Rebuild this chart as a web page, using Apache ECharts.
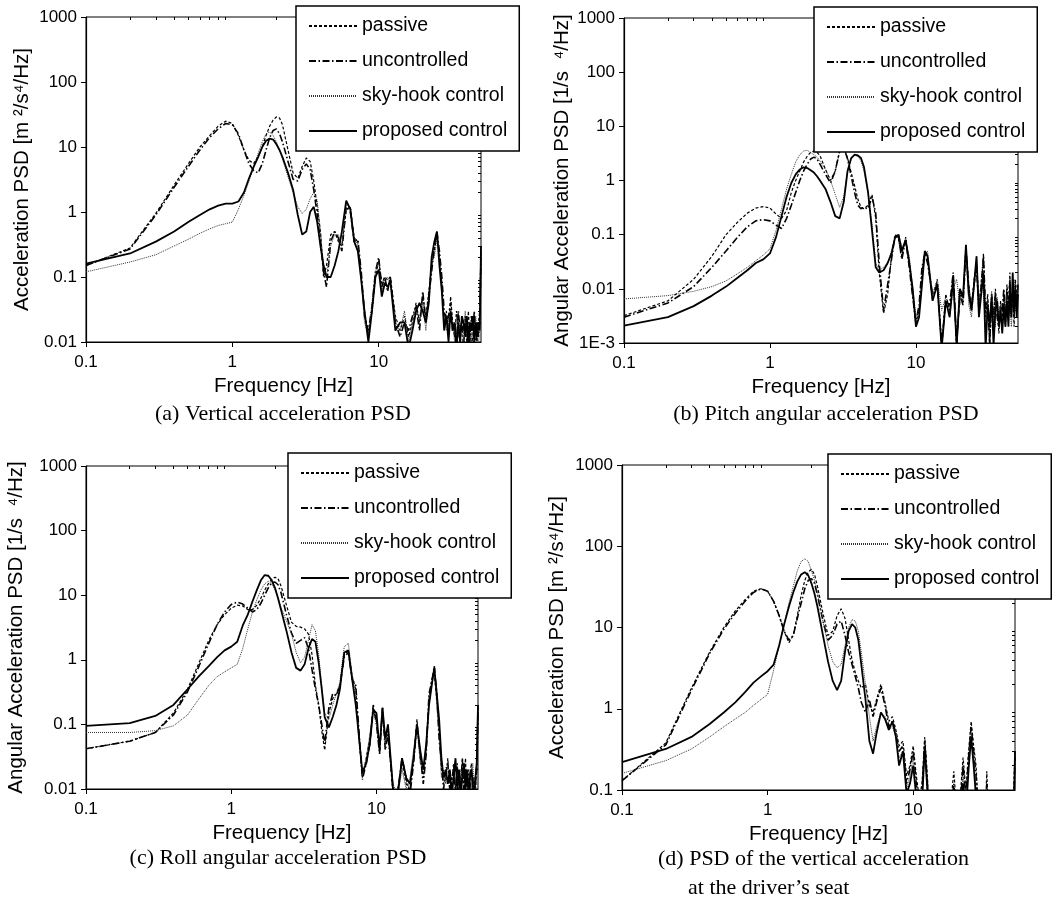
<!DOCTYPE html>
<html>
<head>
<meta charset="utf-8">
<title>Acceleration PSD comparison</title>
<script src="https://cdn.jsdelivr.net/npm/echarts@6/dist/echarts.min.js"></script>
<style>
  html, body { margin: 0; padding: 0; background: #fff; }
  #chart { width: 1062px; height: 914px; }
</style>
</head>
<body>
<div id="chart"></div>
<script>
// frequency grid [Hz], shared by every curve
var freq = [
  0.1, 0.2, 0.3, 0.4, 0.5, 0.6, 0.7, 0.8, 0.9, 1.0,
  1.1, 1.2, 1.3, 1.4, 1.5, 1.6, 1.7, 1.8, 1.9, 2.0,
  2.1, 2.2, 2.4, 2.6, 2.8, 3.0, 3.2, 3.4, 3.6, 3.8,
  4.0, 4.2, 4.4, 4.7, 5.0, 5.3, 5.6, 6.0, 6.4, 6.8,
  7.2, 7.6, 8.0, 8.5, 9.0, 9.5, 10, 10.5, 11, 11.5,
  12, 13, 14, 15, 16, 17, 18, 19, 20, 21,
  22, 23, 24, 25, 26, 27, 28, 29, 30, 31,
  32, 33, 34, 35, 36, 37, 38, 39, 40, 41,
  42, 43, 44, 45, 46, 47, 48, 49, 50
];

var seriesNames = ["passive", "uncontrolled", "sky-hook control", "proposed control"];

// (a) vertical acceleration PSD
var passiveA = [
  0.15, 0.28, 0.95, 2.6, 5.5, 10, 15, 21, 25, 23,
  15, 9, 6.2, 5.6, 7, 10, 15, 21, 26, 29,
  28, 22, 9, 4, 3.3, 5, 6.8, 6, 3, 1.2,
  0.5, 0.1, 0.15, 0.45, 0.5, 0.35, 0.3, 1.1, 1.2, 0.4,
  0.35, 0.1, 0.03, 0.012, 0.03, 0.1, 0.18, 0.08, 0.1, 0.09,
  0.1, 0.025, 0.015, 0.025, 0.012, 0.02, 0.04, 0.02, 0.05, 0.025,
  0.06, 0.15, 0.25, 0.45, 0.2, 0.08, 0.02, 0.03, 0.015, 0.05,
  0.02, 0.012, 0.03, 0.018, 0.008, 0.025, 0.015, 0.02, 0.01, 0.03,
  0.012, 0.02, 0.008, 0.025, 0.015, 0.01, 0.02, 0.03, 0.25
];
var uncontA = [
  0.15, 0.27, 0.9, 2.4, 5, 9, 14, 19, 23, 22,
  16, 9, 5.5, 4.3, 4, 5.5, 9, 14, 18, 19,
  16, 12, 6, 3.2, 3, 4.5, 5.5, 4.5, 2.2, 0.9,
  0.35, 0.12, 0.07, 0.35, 0.5, 0.4, 0.25, 1.2, 1.0, 0.35,
  0.38, 0.12, 0.025, 0.015, 0.035, 0.12, 0.2, 0.07, 0.1, 0.06,
  0.1, 0.02, 0.012, 0.02, 0.015, 0.025, 0.035, 0.015, 0.06, 0.02,
  0.05, 0.12, 0.3, 0.5, 0.25, 0.1, 0.03, 0.02, 0.025, 0.04,
  0.015, 0.02, 0.01, 0.03, 0.015, 0.02, 0.008, 0.025, 0.015, 0.02,
  0.01, 0.025, 0.015, 0.03, 0.008, 0.02, 0.012, 0.02, 0.2
];
var skyA = [
  0.12, 0.17, 0.22, 0.3, 0.38, 0.47, 0.55, 0.62, 0.66, 0.7,
  1.1, 1.8, 3, 5, 8, 12, 16, 17, 15, 12,
  9, 6.5, 3.5, 2, 1.2, 0.95, 1.1, 1.6, 2.0, 1.5,
  0.5, 0.15, 0.1, 0.3, 0.45, 0.45, 0.3, 1.3, 1.2, 0.4,
  0.3, 0.08, 0.02, 0.012, 0.04, 0.12, 0.17, 0.06, 0.09, 0.1,
  0.08, 0.02, 0.015, 0.03, 0.01, 0.02, 0.03, 0.025, 0.04, 0.015,
  0.05, 0.18, 0.2, 0.4, 0.22, 0.06, 0.025, 0.015, 0.02, 0.03,
  0.02, 0.01, 0.025, 0.012, 0.02, 0.015, 0.01, 0.03, 0.012, 0.02,
  0.015, 0.01, 0.02, 0.012, 0.025, 0.015, 0.008, 0.02, 0.2
];
var propA = [
  0.16, 0.23, 0.35, 0.5, 0.7, 0.9, 1.1, 1.25, 1.35, 1.35,
  1.45, 2.0, 3.3, 5, 7, 10, 12.5, 13.5, 13, 11,
  9, 7, 4, 2.2, 0.9, 0.45, 0.5, 1.0, 1.2, 0.7,
  0.3, 0.15, 0.1, 0.1, 0.15, 0.25, 0.5, 1.5, 1.1, 0.35,
  0.25, 0.09, 0.03, 0.01, 0.03, 0.1, 0.13, 0.05, 0.08, 0.07,
  0.09, 0.015, 0.02, 0.02, 0.008, 0.015, 0.03, 0.04, 0.03, 0.02,
  0.04, 0.2, 0.35, 0.5, 0.15, 0.06, 0.015, 0.025, 0.01, 0.03,
  0.015, 0.02, 0.008, 0.02, 0.01, 0.025, 0.02, 0.012, 0.025, 0.008,
  0.02, 0.015, 0.025, 0.01, 0.02, 0.012, 0.02, 0.015, 0.3
];

// (b) pitch angular acceleration PSD
var passiveB = [
  0.0032, 0.006, 0.015, 0.04, 0.1, 0.17, 0.25, 0.31, 0.33, 0.31,
  0.24, 0.2, 0.28, 0.6, 1.0, 1.5, 2.2, 2.8, 3.3, 3.5,
  3.3, 2.9, 1.6, 1.0, 1.5, 3.5, 4.0, 2.6, 1.4, 0.8,
  0.45, 0.32, 0.3, 0.35, 0.55, 0.2, 0.02, 0.0035, 0.008, 0.04,
  0.1, 0.08, 0.04, 0.09, 0.03, 0.008, 0.002, 0.004, 0.02, 0.05,
  0.04, 0.006, 0.015, 0.0008, 0.008, 0.004, 0.018, 0.0008, 0.01, 0.006,
  0.06, 0.012, 0.004, 0.015, 0.03, 0.006, 0.01, 0.045, 0.003, 0.008,
  0.0008, 0.006, 0.002, 0.01, 0.004, 0.0015, 0.006, 0.003, 0.008, 0.002,
  0.012, 0.004, 0.02, 0.003, 0.01, 0.002, 0.015, 0.006, 0.01
];
var uncontB = [
  0.003, 0.0055, 0.011, 0.025, 0.05, 0.09, 0.14, 0.18, 0.19, 0.18,
  0.15, 0.13, 0.2, 0.35, 0.6, 1.0, 1.5, 2.0, 2.5, 2.7,
  2.5, 2.0, 1.3, 0.9, 1.5, 3.5, 4.1, 2.5, 1.2, 0.6,
  0.35, 0.3, 0.32, 0.3, 0.5, 0.25, 0.03, 0.004, 0.012, 0.035,
  0.1, 0.09, 0.035, 0.08, 0.025, 0.007, 0.0025, 0.005, 0.025, 0.045,
  0.03, 0.008, 0.012, 0.001, 0.006, 0.005, 0.02, 0.001, 0.008, 0.005,
  0.05, 0.01, 0.005, 0.012, 0.025, 0.004, 0.012, 0.04, 0.004, 0.006,
  0.001, 0.008, 0.003, 0.008, 0.003, 0.002, 0.005, 0.004, 0.01, 0.003,
  0.01, 0.003, 0.015, 0.004, 0.008, 0.003, 0.012, 0.005, 0.012
];
var skyB = [
  0.0065, 0.0075, 0.009, 0.011, 0.014, 0.019, 0.025, 0.033, 0.042, 0.055,
  0.12, 0.3, 0.7, 1.3, 2.2, 3.0, 3.5, 3.6, 3.3, 3.0,
  2.7, 2.3, 1.6, 1.0, 0.55, 0.32, 0.5, 1.5, 2.5, 2.9,
  2.8, 2.3, 1.5, 0.6, 0.15, 0.03, 0.022, 0.025, 0.03, 0.05,
  0.09, 0.1, 0.06, 0.07, 0.04, 0.01, 0.003, 0.004, 0.015, 0.04,
  0.05, 0.008, 0.015, 0.004, 0.007, 0.003, 0.01, 0.015, 0.005, 0.008,
  0.06, 0.005, 0.003, 0.01, 0.04, 0.005, 0.015, 0.008, 0.002, 0.006,
  0.003, 0.009, 0.004, 0.002, 0.007, 0.003, 0.005, 0.002, 0.004, 0.003,
  0.008, 0.003, 0.006, 0.002, 0.005, 0.015, 0.004, 0.009, 0.01
];
var propB = [
  0.0021, 0.003, 0.0048, 0.0075, 0.011, 0.016, 0.022, 0.03, 0.035, 0.045,
  0.09, 0.22, 0.5, 0.9, 1.3, 1.6, 1.75, 1.7, 1.55, 1.4,
  1.2, 1.0, 0.7, 0.4, 0.22, 0.2, 0.4, 1.5, 2.6, 3.0,
  2.9, 2.6, 1.8, 0.6, 0.12, 0.025, 0.02, 0.022, 0.03, 0.045,
  0.09, 0.1, 0.05, 0.08, 0.03, 0.01, 0.002, 0.003, 0.012, 0.05,
  0.04, 0.006, 0.012, 0.0008, 0.006, 0.003, 0.015, 0.0009, 0.01, 0.007,
  0.065, 0.008, 0.004, 0.012, 0.04, 0.003, 0.008, 0.02, 0.0008, 0.005,
  0.002, 0.007, 0.0009, 0.004, 0.006, 0.002, 0.004, 0.0015, 0.005, 0.002,
  0.006, 0.002, 0.01, 0.003, 0.02, 0.004, 0.01, 0.003, 0.008
];

// (c) roll angular acceleration PSD
var passiveC = [
  0.042, 0.055, 0.075, 0.15, 0.35, 0.9, 2.0, 3.5, 5, 6.3,
  7, 6.8, 6, 6, 7, 9, 12, 15, 17.5, 19,
  18, 14, 7, 3.8, 3.3, 3.2, 3.0, 2.5, 1.2, 0.4,
  0.2, 0.08, 0.04, 0.15, 0.25, 0.3, 0.4, 1.2, 1.4, 0.55,
  0.35, 0.06, 0.015, 0.03, 0.06, 0.18, 0.12, 0.04, 0.15, 0.05,
  0.08, 0.008, 0.01, 0.025, 0.012, 0.01, 0.03, 0.12, 0.03, 0.015,
  0.04, 0.25, 0.5, 0.6, 0.25, 0.08, 0.02, 0.012, 0.015, 0.03,
  0.008, 0.015, 0.02, 0.01, 0.025, 0.008, 0.015, 0.02, 0.01, 0.03,
  0.008, 0.02, 0.015, 0.025, 0.01, 0.015, 0.008, 0.03, 0.2
];
var uncontC = [
  0.042, 0.055, 0.075, 0.14, 0.32, 0.8, 1.8, 3.5, 5.5, 7.2,
  7.8, 7.3, 6.3, 5.5, 6, 7.5, 10, 13, 15.5, 16,
  14.5, 11, 5, 2.6, 1.8, 2.0, 2.2, 1.5, 0.7, 0.35,
  0.2, 0.1, 0.05, 0.18, 0.3, 0.28, 0.4, 1.1, 1.3, 0.5,
  0.4, 0.07, 0.014, 0.025, 0.05, 0.2, 0.1, 0.035, 0.18, 0.04,
  0.07, 0.01, 0.009, 0.03, 0.015, 0.008, 0.025, 0.1, 0.035, 0.012,
  0.035, 0.3, 0.45, 0.8, 0.3, 0.06, 0.025, 0.01, 0.02, 0.025,
  0.01, 0.012, 0.025, 0.008, 0.02, 0.012, 0.01, 0.03, 0.008, 0.02,
  0.012, 0.015, 0.01, 0.02, 0.015, 0.01, 0.012, 0.02, 0.15
];
var skyC = [
  0.075, 0.075, 0.08, 0.095, 0.14, 0.25, 0.4, 0.55, 0.65, 0.75,
  0.85, 1.5, 3, 5.5, 8.5, 12, 15, 16.5, 15, 12,
  9, 6.5, 4, 2.5, 1.3, 0.9, 1.1, 2.0, 3.5, 2.8,
  1.2, 0.4, 0.15, 0.12, 0.2, 0.3, 0.45, 1.6, 1.8, 0.6,
  0.25, 0.05, 0.016, 0.03, 0.07, 0.17, 0.1, 0.05, 0.15, 0.05,
  0.09, 0.012, 0.008, 0.02, 0.01, 0.015, 0.04, 0.09, 0.025, 0.02,
  0.05, 0.2, 0.4, 0.7, 0.2, 0.07, 0.015, 0.02, 0.012, 0.025,
  0.015, 0.01, 0.02, 0.012, 0.015, 0.01, 0.02, 0.015, 0.025, 0.01,
  0.015, 0.012, 0.02, 0.01, 0.025, 0.012, 0.01, 0.015, 0.15
];
var propC = [
  0.095, 0.105, 0.135, 0.2, 0.35, 0.56, 0.8, 1.1, 1.4, 1.6,
  1.9, 3.4, 5, 8, 12, 17, 20.5, 20, 17, 13,
  9, 6, 2.8, 1.3, 0.75, 0.68, 0.85, 1.5, 2.1, 1.9,
  0.9, 0.35, 0.13, 0.09, 0.13, 0.2, 0.35, 1.3, 1.4, 0.5,
  0.2, 0.06, 0.018, 0.025, 0.05, 0.17, 0.15, 0.04, 0.18, 0.06,
  0.1, 0.01, 0.008, 0.03, 0.015, 0.012, 0.03, 0.1, 0.04, 0.02,
  0.05, 0.2, 0.4, 0.75, 0.3, 0.12, 0.03, 0.015, 0.02, 0.012,
  0.02, 0.008, 0.015, 0.03, 0.01, 0.02, 0.008, 0.015, 0.025, 0.01,
  0.02, 0.008, 0.015, 0.02, 0.012, 0.008, 0.015, 0.025, 0.2
];

// (d) vertical acceleration at the driver's seat
var passiveD = [
  0.13, 0.38, 1.8, 5, 10, 16, 22, 28, 30, 28,
  21, 14, 9, 6.5, 8, 14, 25, 38, 48, 52,
  45, 32, 15, 8, 9, 14, 17, 13, 7, 4,
  2.8, 2.2, 1.8, 2, 1.1, 0.9, 1.3, 2.0, 1.2, 0.7,
  0.8, 0.55, 0.35, 0.4, 0.15, 0.2, 0.35, 0.15, 0.08, 0.12,
  0.45, 0.05, 0.06, 0.04, 0.05, 0.03, 0.06, 0.17, 0.05, 0.08,
  0.25, 0.1, 0.3, 0.7, 0.35, 0.2, 0.06, 0.05, 0.04, 0.03,
  0.17, 0.04, 0.03, 0.05, 0.03, 0.04, 0.02, 0.05, 0.03, 0.04,
  0.03, 0.05, 0.02, 0.04, 0.03, 0.05, 0.04, 0.1, 0.3
];
var uncontD = [
  0.13, 0.36, 1.7, 4.8, 9.5, 15, 21, 27, 30, 28,
  21, 14, 9, 7, 8, 13, 20, 30, 38, 40,
  35, 25, 12, 7, 8, 11, 12, 8, 5, 3.5,
  2.5, 1.8, 1.2, 0.9, 1.3, 0.8, 1.2, 1.8, 1.1, 0.6,
  0.7, 0.5, 0.3, 0.35, 0.12, 0.18, 0.3, 0.12, 0.07, 0.1,
  0.4, 0.04, 0.05, 0.03, 0.04, 0.02, 0.05, 0.12, 0.04, 0.06,
  0.2, 0.08, 0.25, 0.6, 0.3, 0.15, 0.05, 0.04, 0.03, 0.02,
  0.12, 0.03, 0.02, 0.04, 0.02, 0.03, 0.015, 0.04, 0.02, 0.03,
  0.02, 0.04, 0.015, 0.03, 0.02, 0.04, 0.03, 0.06, 0.25
];
var skyD = [
  0.16, 0.23, 0.32, 0.45, 0.6, 0.75, 0.9, 1.1, 1.3, 1.5,
  3, 6, 11, 20, 32, 50, 65, 70, 65, 50,
  38, 27, 12, 6, 3.8, 3.2, 3.5, 6, 10, 12.5,
  12, 9, 5, 2, 0.8, 0.4, 0.6, 0.9, 0.8, 0.55,
  0.6, 0.45, 0.25, 0.3, 0.1, 0.15, 0.25, 0.1, 0.06, 0.08,
  0.3, 0.03, 0.04, 0.02, 0.03, 0.02, 0.04, 0.1, 0.03, 0.05,
  0.15, 0.06, 0.2, 0.5, 0.25, 0.1, 0.04, 0.03, 0.02, 0.02,
  0.1, 0.02, 0.015, 0.03, 0.015, 0.02, 0.01, 0.03, 0.015, 0.02,
  0.015, 0.03, 0.01, 0.02, 0.015, 0.03, 0.02, 0.05, 0.2
];
var propD = [
  0.22, 0.32, 0.45, 0.65, 0.9, 1.2, 1.6, 2.1, 2.5, 2.9,
  3.5, 6, 11, 18, 27, 37, 45, 48, 44, 35,
  26, 18, 8, 3.8, 2.2, 1.7, 2.2, 5, 9, 11,
  10, 7, 3.5, 1.3, 0.4, 0.28, 0.5, 0.9, 0.75, 0.55,
  0.7, 0.45, 0.2, 0.3, 0.09, 0.12, 0.2, 0.08, 0.05, 0.07,
  0.35, 0.03, 0.04, 0.02, 0.03, 0.015, 0.03, 0.08, 0.02, 0.04,
  0.12, 0.05, 0.18, 0.45, 0.2, 0.08, 0.03, 0.02, 0.015, 0.02,
  0.08, 0.015, 0.01, 0.02, 0.01, 0.015, 0.008, 0.02, 0.01, 0.015,
  0.01, 0.02, 0.008, 0.015, 0.01, 0.02, 0.015, 0.04, 0.3
];

var SANS = '"Liberation Sans", Arial, Helvetica, sans-serif';
var SERIF = '"Liberation Serif", "Times New Roman", Times, serif';

// layout of the four panels (plot box in px, y range, axis title, legend corner)
var panels = [
  { box: [86, 17, 395, 325], yMin: 0.01, yMax: 1000, yGap: 53, legend: [296, 6],
    yName: "Acceleration PSD [m \u00b2/s\u2074/Hz]", curves: [passiveA, uncontA, skyA, propA] },
  { box: [624, 18, 394, 325], yMin: 0.001, yMax: 1000, yGap: 51, legend: [814, 7],
    yName: "Angular Acceleration PSD [1/s  \u2074/Hz]", curves: [passiveB, uncontB, skyB, propB] },
  { box: [86, 466, 392, 323], yMin: 0.01, yMax: 1000, yGap: 59, legend: [288, 453],
    yName: "Angular Acceleration PSD [1/s  \u2074/Hz]", curves: [passiveC, uncontC, skyC, propC] },
  { box: [622, 465, 393, 325], yMin: 0.1, yMax: 1000, yGap: 54, legend: [828, 454],
    yName: "Acceleration PSD [m \u00b2/s\u2074/Hz]", curves: [passiveD, uncontD, skyD, propD] }
];

var lineStyles = [
  { type: [3, 2], width: 1.2, color: "#000" },
  { type: [7, 2.5, 1.5, 2.5], width: 1.6, color: "#000" },
  { type: [1, 1], width: 1, color: "#333" },
  { type: "solid", width: 1.8, color: "#000" }
];

// minor tick positions 2..9 of each decade
function minorTicks(lo, hi) {
  var out = [];
  for (var d = lo; d < hi; d *= 10) {
    for (var m = 2; m <= 9; m++) {
      var v = +(m * d).toPrecision(6);
      if (v < hi) out.push(v);
    }
  }
  return out;
}

function tickText(v) {
  if (v < 0.002) return "1E-3";
  return String(+v.toPrecision(6));
}

var axisFont = { fontFamily: SANS, fontSize: 17, color: "#000" };
var nameFont = { fontFamily: SANS, fontSize: 20.5, color: "#000" };

var option = {
  animation: false,
  backgroundColor: "#fff",
  grid: [],
  xAxis: [],
  yAxis: [],
  legend: [],
  series: [],
  graphic: []
};

panels.forEach(function(p, i) {
  option.grid.push({
    left: p.box[0], top: p.box[1], width: p.box[2], height: p.box[3],
    show: true, borderColor: "#000", borderWidth: 1, containLabel: false
  });

  // main axes (labels, outer ticks) and a second pair for the inner minor ticks
  option.xAxis.push({
    type: "log", logBase: 10, gridIndex: i, min: 0.1, max: 50,
    name: "Frequency [Hz]", nameLocation: "middle", nameGap: 34, nameTextStyle: nameFont,
    axisLine: { show: true, onZero: false, lineStyle: { color: "#000", width: 1.2 } },
    axisTick: { show: true, inside: false, length: 5, lineStyle: { color: "#000" } },
    axisLabel: Object.assign({ margin: 12, showMaxLabel: false, formatter: tickText }, axisFont),
    splitLine: { show: false }
  });
  option.xAxis.push({
    type: "log", logBase: 10, gridIndex: i, min: 0.1, max: 50,
    axisLine: { show: false },
    axisTick: { show: true, inside: true, length: 3, customValues: minorTicks(0.1, 50), lineStyle: { color: "#000" } },
    axisLabel: { show: false },
    splitLine: { show: false }
  });
  option.yAxis.push({
    type: "log", logBase: 10, gridIndex: i, min: p.yMin, max: p.yMax,
    name: p.yName, nameLocation: "middle", nameGap: p.yGap, nameTextStyle: nameFont,
    axisLine: { show: true, onZero: false, lineStyle: { color: "#000", width: 1.2 } },
    axisTick: { show: true, inside: false, length: 5, lineStyle: { color: "#000" } },
    axisLabel: Object.assign({ margin: 9, formatter: tickText }, axisFont),
    splitLine: { show: false }
  });
  option.yAxis.push({
    type: "log", logBase: 10, gridIndex: i, min: p.yMin, max: p.yMax,
    axisLine: { show: false },
    axisTick: { show: true, inside: true, length: 3, customValues: minorTicks(p.yMin, p.yMax), lineStyle: { color: "#000" } },
    axisLabel: { show: false },
    splitLine: { show: false }
  });

  p.curves.forEach(function(values, k) {
    option.series.push({
      type: "line",
      name: seriesNames[k],
      xAxisIndex: 2 * i,
      yAxisIndex: 2 * i,
      data: freq.map(function(f, j) { return [f, values[j]]; }),
      symbol: "none",
      clip: true,
      z: k === 3 ? 4 : 3,
      itemStyle: { color: "#000" },
      lineStyle: lineStyles[k]
    });
  });

  option.legend.push({
    left: p.legend[0], top: p.legend[1],
    orient: "vertical",
    data: seriesNames,
    selectedMode: false,
    itemWidth: 48, itemHeight: 14, itemGap: 15,
    padding: [10, 12, 10, 12],
    borderColor: "#000", borderWidth: 1.5,
    backgroundColor: "#fff",
    // hide the marker dot, keep only the line sample
    itemStyle: { color: "rgba(0,0,0,0)", borderWidth: 0, opacity: 0 },
    textStyle: { fontFamily: SANS, fontSize: 19.5, color: "#000" },
    z: 10
  });
});

var captions = [
  { text: "(a) Vertical acceleration PSD", x: 283, y: 414, align: "center" },
  { text: "(b) Pitch angular acceleration PSD", x: 826, y: 414, align: "center" },
  { text: "(c) Roll angular acceleration PSD", x: 278, y: 858, align: "center" },
  { text: "(d) PSD of the vertical acceleration", x: 658, y: 859, align: "left" },
  { text: "at the driver\u2019s seat", x: 688, y: 888, align: "left" }
];
captions.forEach(function(c) {
  option.graphic.push({
    type: "text",
    x: c.x, y: c.y,
    style: {
      text: c.text,
      fontFamily: SERIF, fontSize: 22, fill: "#000",
      align: c.align, verticalAlign: "middle"
    }
  });
});

var chart = echarts.init(document.getElementById("chart"));
chart.setOption(option);
</script>
</body>
</html>
